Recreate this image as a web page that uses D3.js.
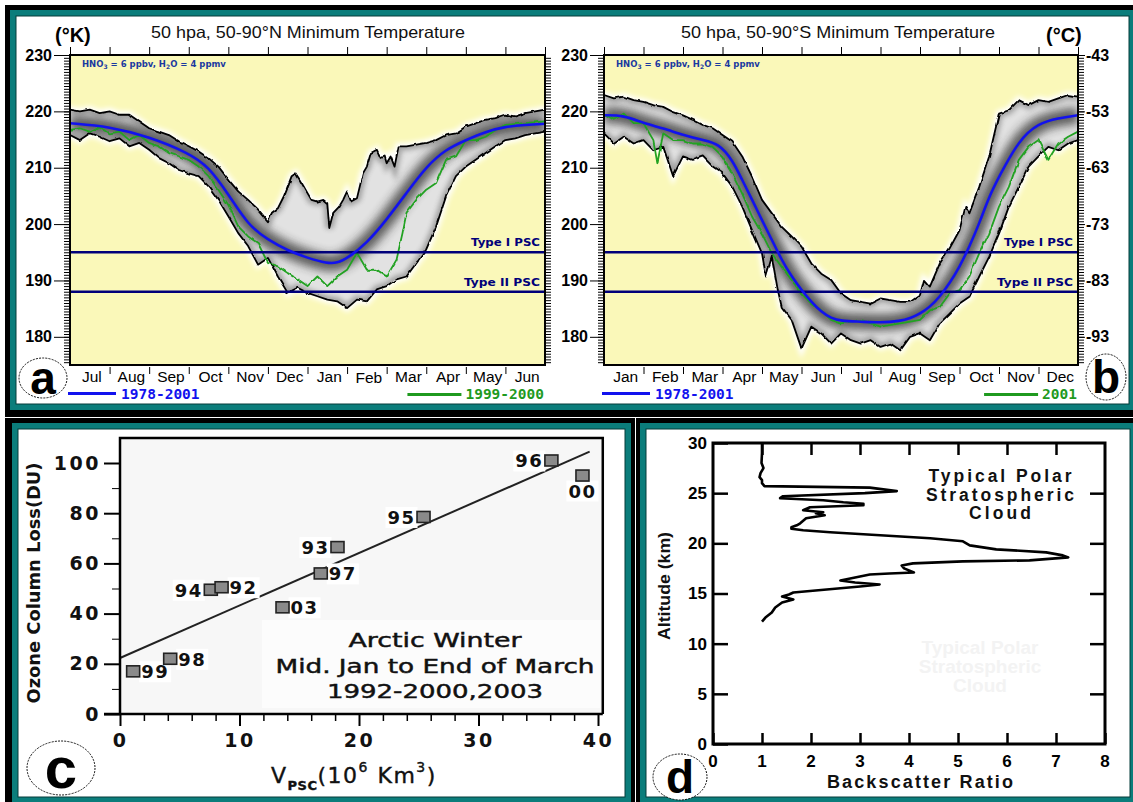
<!DOCTYPE html>
<html lang="en">
<head>
<meta charset="UTF-8">
<title>Polar minimum temperature, PSC volume and ozone loss</title>
<script src="https://d3js.org/d3.v7.min.js"></script>
<style>
  body { margin: 0; background: #fff; }
  svg { display: block; }
</style>
</head>
<body>
<script>
// ---------- panels a / b : 50 hPa minimum temperature (t = months from left edge, K)
const monthsNorth = ["Jul", "Aug", "Sep", "Oct", "Nov", "Dec", "Jan", "Feb", "Mar", "Apr", "May", "Jun"];
const monthsSouth = ["Jan", "Feb", "Mar", "Apr", "May", "Jun", "Jul", "Aug", "Sep", "Oct", "Nov", "Dec"];
const kelvinTicks = [230, 220, 210, 200, 190, 180];
const celsiusTicks = [-43, -53, -63, -73, -83, -93];
const pscLevels = [195, 188];
const pscNames = ["Type I PSC", "Type II PSC"];

const northMax = [[0,220.3],[0.25,220],[0.5,220.3],[0.75,219.7],[1,220],[1.25,219.4],[1.5,219.4],[1.75,218.2],[2,217],[2.25,216.4],[2.5,215.8],[2.75,214.7],[3,213.8],[3.25,212.9],[3.5,211.7],[3.75,210.2],[4,207.9],[4.25,205.8],[4.5,204.3],[4.75,202.6],[5,200.5],[5.1,202],[5.25,202.8],[5.4,204.9],[5.5,206.7],[5.6,208.5],[5.7,209],[5.8,207.9],[5.9,206.7],[6,205.5],[6.1,204.3],[6.25,204],[6.4,204.3],[6.5,203.7],[6.55,199.3],[6.65,202],[6.8,203.1],[6.9,204.3],[7,205.8],[7.1,204],[7.25,204.6],[7.4,209],[7.5,210.2],[7.6,212.6],[7.75,213.2],[7.85,211.7],[7.95,212],[8,210.8],[8.1,212],[8.2,210.2],[8.3,213.8],[8.5,213.8],[8.75,214.1],[9,214.4],[9.25,214.9],[9.5,215.8],[9.75,216.1],[10,217.3],[10.25,217.9],[10.5,218.5],[10.75,218.8],[11,219.4],[11.25,219.1],[11.5,219.7],[11.75,220],[12,220.3]];
const northMin = [[0,215.8],[0.25,214.9],[0.5,216.1],[0.75,215.5],[1,214.7],[1.25,215.2],[1.5,213.8],[1.75,214.4],[2,213.2],[2.25,211.7],[2.5,210.8],[2.75,209.6],[3,209],[3.25,208.5],[3.5,206.7],[3.75,204.3],[4,201.4],[4.25,198.4],[4.5,196.1],[4.75,192.8],[5,194],[5.25,190.7],[5.5,187.8],[5.75,188.7],[6,187.8],[6.25,187.2],[6.5,186.6],[6.75,186.3],[7,185.1],[7.25,186.6],[7.5,186.3],[7.75,188.4],[8,189],[8.25,190.2],[8.5,190.7],[8.75,193.1],[9,195.5],[9.25,199.6],[9.5,204.9],[9.75,208.5],[10,210.2],[10.25,211.4],[10.5,212.6],[10.75,213.8],[11,214.9],[11.25,215.2],[11.5,215.8],[11.75,216.1],[12,216.4]];
const northMean = [[0,217.9],[1,217.3],[2,215.5],[3,212.6],[3.5,210.2],[4,205.3],[4.5,199.8],[5,197.2],[5.5,195.3],[6,194],[6.5,193],[6.75,193.1],[7,193.9],[7.5,196.6],[8,200.8],[8.5,205.5],[9,210.2],[9.5,213.3],[10,214.9],[10.5,216.4],[11,217.3],[11.5,217.6],[12,217.8]];
const northGreen = [[0,216.7],[0.25,217],[0.5,216.4],[0.75,217.3],[1,216.1],[1.25,216.4],[1.5,214.9],[1.75,215.8],[2,214.4],[2.25,213.8],[2.5,212.6],[2.75,212],[3,211.4],[3.25,210.2],[3.5,208.5],[3.75,206.1],[4,203.4],[4.25,199.6],[4.5,197.8],[4.75,196.6],[5,193.1],[5.25,192.5],[5.5,191.3],[5.75,190.2],[6,189],[6.25,190.7],[6.5,189],[6.75,190.7],[7,191.9],[7.25,194.9],[7.5,191.9],[7.75,191.9],[8,190.7],[8.25,193.7],[8.4,198.4],[8.5,202],[8.75,204.3],[9,206.1],[9.25,207.3],[9.5,211.4],[9.75,212],[10,214.9],[10.25,214.9],[10.5,215.5],[10.75,216.7],[11,217.6],[11.5,217.9],[12,218.2]];

const southMax = [[0,222.9],[0.25,222.3],[0.5,222.6],[0.75,222],[1,221.7],[1.25,221.1],[1.5,220.8],[1.75,219.9],[2,219.3],[2.25,218.5],[2.5,217.6],[2.75,217],[3,215.8],[3.25,214.6],[3.5,212],[3.75,208.4],[4,204.3],[4.25,201.9],[4.5,199.5],[4.75,197.8],[5,196],[5.25,193],[5.5,191.2],[5.75,190.1],[6,187.7],[6.25,186.5],[6.5,186.2],[6.75,185.9],[7,186.8],[7.25,186.5],[7.5,186.2],[7.75,186.2],[8,187.4],[8.1,190.1],[8.25,188.9],[8.5,193],[8.75,195.7],[9,198.9],[9.15,203.1],[9.25,201.9],[9.5,206.6],[9.75,212],[10,219.6],[10.25,220.2],[10.5,222],[10.75,221.1],[11,222],[11.25,221.7],[11.5,222.3],[11.75,222.9],[12,222.6]];
const southMin = [[0,216.1],[0.25,214.3],[0.5,215.5],[0.75,214.3],[1,214.9],[1.25,213.1],[1.5,213.7],[1.75,208.5],[2,212],[2.25,211.4],[2.5,212],[2.75,210.2],[3,209],[3.25,206.6],[3.5,203.1],[3.75,198.9],[4,194.8],[4.1,190.7],[4.25,194.2],[4.4,188.3],[4.5,185.3],[4.75,183],[5,177.9],[5.25,181.8],[5.5,180.6],[5.75,178.8],[6,180.6],[6.25,179.4],[6.5,178.8],[6.75,179.4],[7,178.2],[7.25,178.8],[7.5,177.6],[7.75,180],[8,180.6],[8.25,179.4],[8.5,182.4],[8.75,184.1],[9,185.9],[9.25,187.1],[9.5,190.7],[9.75,194.2],[10,198.3],[10.25,203.1],[10.5,206.6],[10.75,210.2],[11,212],[11.25,213.7],[11.5,213.1],[11.75,214.3],[12,214.9]];
const southMean = [[0,219.3],[0.5,219.3],[1,217.9],[1.5,217],[2,215.8],[2.5,214.9],[2.9,214.3],[3.25,211.4],[3.5,207.8],[3.75,204.3],[4,200.7],[4.25,197.2],[4.5,193.6],[4.75,190.7],[5,188.3],[5.25,186.2],[5.5,184.4],[5.75,183.3],[6,182.8],[6.5,182.7],[7,182.5],[7.5,182.8],[7.75,183.3],[8,184.1],[8.25,185.3],[8.5,187.1],[8.75,189.5],[9,192.4],[9.25,196],[9.5,200.1],[9.75,204.9],[10,208.4],[10.5,214.9],[11,217.9],[11.5,218.8],[12,219.3]];
const southGreen = [[0,219.6],[0.25,218.5],[0.5,219.6],[0.75,217.9],[1,217.9],[1.25,214.9],[1.35,210.8],[1.5,216.1],[1.75,214.9],[2,214.9],[2.25,214.3],[2.5,214.3],[2.75,213.7],[3,212],[3.25,209],[3.5,205.4],[3.75,201.3],[4,198.3],[4.25,194.8],[4.5,192.4],[4.75,190.1],[5,187.7],[5.25,185.9],[5.5,184.7],[5.75,183],[6,182.4],[6.5,183],[7,181.8],[7.5,182.4],[8,183],[8.25,184.7],[8.5,185.3],[8.75,187.7],[9,188.3],[9.25,190.7],[9.5,194.8],[9.75,198.3],[10,203.1],[10.25,206.6],[10.5,211.4],[10.75,213.7],[11,214.9],[11.25,211.4],[11.5,214.3],[11.75,215.5],[12,216.4]];

// ---------- panel c : ozone column loss vs PSC volume
const vpsc = [1.1, 4.2, 7.6, 8.5, 13.6, 16.8, 18.2, 25.4, 36.1, 38.7];
const ozoneLoss = [17, 22, 49.5, 50.5, 42.5, 56, 66.5, 78.5, 101, 95];
const winterLabels = ["99", "98", "94", "92", "03", "97", "93", "95", "96", "00"];
const labelSide = ["r", "r", "l", "r", "r", "r", "l", "l", "l", "b"];
const fitLine = [[0, 22.3], [39.3, 104.5]];

// ---------- panel d : lidar backscatter profile
const altitudeKm = [30, 29, 28, 27.5, 27, 26.6, 26.3, 26, 25.7, 25.55, 25.2, 25, 24.7, 24.5, 24.3, 24.1, 23.95, 23.8, 23.6, 23.3, 23.1, 23, 22.8, 22.5, 22, 21.8, 21.6, 21.45, 21.3, 21.1, 20.9, 20.7, 20.5, 20.2, 19.8, 19.4, 19.1, 18.8, 18.6, 18.3, 18.2, 18, 17.8, 17.5, 17.1, 17, 16.9, 16.6, 16.3, 16.1, 15.9, 15.7, 15.1, 14.9, 14.7, 14.4, 14.1, 13.6, 13.1, 12.6, 12.2];
const backscatter = [1, 1, 0.99, 1.03, 0.97, 0.95, 1, 1, 1.05, 3.2, 3.75, 3.1, 1.43, 1.37, 2.25, 2.66, 3.07, 3.07, 1.98, 1.84, 2.25, 2.1, 2.28, 1.9, 1.78, 1.71, 1.6, 1.6, 1.84, 2.39, 3.07, 3.75, 4.43, 5.1, 5.24, 5.78, 6.8, 7.14, 7.25, 6.46, 5.1, 4.08, 3.85, 3.9, 4.1, 3.6, 3.2, 2.9, 2.6, 2.9, 3.4, 3.0, 1.64, 1.55, 1.41, 1.64, 1.41, 1.27, 1.2, 1.07, 1.0];

const W = 1133, H = 802;
const TEAL = "#0b7d7b", NAVY = "#00007a", BLUE = "#1212ee", GREEN = "#1f9a1f";

const svg = d3.select("body").append("svg").attr("width", W).attr("height", H);
const defs = svg.append("defs");

const soft = defs.append("filter").attr("id", "soft").attr("x", "-10%").attr("y", "-10%").attr("width", "120%").attr("height", "120%");
soft.append("feGaussianBlur").attr("stdDeviation", 2.5);
const softer = defs.append("filter").attr("id", "softer").attr("x", "-10%").attr("y", "-20%").attr("width", "120%").attr("height", "140%");
softer.append("feGaussianBlur").attr("stdDeviation", 5);
const rough = defs.append("filter").attr("id", "rough").attr("filterUnits", "userSpaceOnUse")
  .attr("x", 0).attr("y", 0).attr("width", W).attr("height", 420);
rough.append("feTurbulence").attr("type", "fractalNoise").attr("baseFrequency", "0.14 0.08").attr("numOctaves", 2).attr("seed", 4).attr("result", "noise");
rough.append("feDisplacementMap").attr("in", "SourceGraphic").attr("in2", "noise").attr("scale", 3)
  .attr("xChannelSelector", "R").attr("yChannelSelector", "G");

// ---------- frames
svg.append("rect").attr("width", W).attr("height", H).attr("fill", "#fff");
svg.append("rect").attr("x", 5).attr("y", 5).attr("width", W - 5).attr("height", H - 5).attr("fill", "#000");
function frame(x, y, w, h) {
  svg.append("rect").attr("x", x).attr("y", y).attr("width", w).attr("height", h).attr("fill", TEAL);
  svg.append("rect").attr("x", x + 6).attr("y", y + 6).attr("width", w - 12).attr("height", h - 12)
    .attr("fill", "#fff").attr("stroke", "#063c3b").attr("stroke-width", 1);
}
frame(10, 10, 1125, 400);
svg.append("line").attr("x1", 0).attr("x2", W).attr("y1", 417.5).attr("y2", 417.5).attr("stroke", "#fff");
svg.append("line").attr("x1", 635.5).attr("x2", 635.5).attr("y1", 418).attr("y2", H).attr("stroke", "#fff");
frame(12, 423, 619, 380);
frame(640, 423, 496, 380);

function cleanAxis(g, family, size, weight) {
  g.attr("font-family", family).attr("font-size", size).attr("font-weight", weight);
  g.select(".domain").remove();
  g.selectAll(".tick line").attr("stroke", "#000");
  g.selectAll(".tick text").attr("fill", "#000");
}

function circleTag(cx, cy, rx, ry, letter, size) {
  svg.append("ellipse").attr("cx", cx).attr("cy", cy).attr("rx", rx).attr("ry", ry)
    .attr("fill", "#fff").attr("stroke", "#111").attr("stroke-width", 1).attr("stroke-dasharray", "2,1.2");
  svg.append("text").attr("x", cx).attr("y", cy).attr("dy", "0.34em").attr("text-anchor", "middle")
    .attr("font-family", "Liberation Sans, Arial, sans-serif").attr("font-weight", "bold")
    .attr("font-size", size).attr("fill", "#000").text(letter);
}

// ---------- temperature panels
function drawTempPanel(p) {
  const x = d3.scaleLinear().domain([0, 12]).range([p.x0, p.x1]);
  const y = d3.scaleLinear().domain([175, 230]).range([365, 55]);
  const g = svg.append("g");

  g.append("rect").attr("x", p.x0).attr("y", y(230)).attr("width", p.x1 - p.x0)
    .attr("height", y(175) - y(230)).attr("fill", "#faf8b9");

  const jag = d3.line().x(d => x(d[0])).y(d => y(d[1]));
  const smooth = d3.line().x(d => x(d[0])).y(d => y(d[1])).curve(d3.curveBasis);
  const envPath = jag(p.max.concat(p.min.slice().reverse())) + "Z";
  const clipId = "env-" + p.id;
  defs.append("clipPath").attr("id", clipId).append("path").attr("d", envPath);

  // white halo + grey density band
  g.append("path").attr("d", envPath).attr("fill", "#fff").attr("stroke", "#fff")
    .attr("stroke-width", 7).attr("filter", "url(#soft)");
  const band = g.append("g").attr("clip-path", `url(#${clipId})`);
  band.append("rect").attr("x", p.x0).attr("y", 55).attr("width", p.x1 - p.x0).attr("height", 310).attr("fill", "#e2e2e2");
  band.append("path").attr("d", smooth(p.mean)).attr("fill", "none").attr("stroke", "#2e2e2e")
    .attr("stroke-width", 16).attr("opacity", 0.75).attr("filter", "url(#softer)");
  [p.max, p.min].forEach(s => {
    band.append("path").attr("d", jag(s)).attr("fill", "none").attr("stroke", "#555")
      .attr("stroke-width", 8).attr("opacity", 0.45).attr("filter", "url(#soft)");
  });

  // noisy extremes and single season
  const noisy = g.append("g").attr("filter", "url(#rough)");
  [p.max, p.min].forEach(s => {
    noisy.append("path").attr("d", jag(s)).attr("fill", "none").attr("stroke", "#000")
      .attr("stroke-width", 1.8).attr("stroke-linejoin", "round");
  });
  noisy.append("path").attr("d", jag(p.green)).attr("fill", "none").attr("stroke", "#22a222")
    .attr("stroke-width", 1.8).attr("stroke-linejoin", "round");

  // PSC thresholds
  pscLevels.forEach((k, i) => {
    g.append("line").attr("x1", p.x0).attr("x2", p.x1).attr("y1", y(k)).attr("y2", y(k))
      .attr("stroke", NAVY).attr("stroke-width", 2.4);
    g.append("text").attr("x", p.x1 - 5).attr("y", y(k) - 6).attr("text-anchor", "end")
      .attr("font-family", "DejaVu Sans, Verdana, sans-serif").attr("font-weight", "bold")
      .attr("font-size", 10.5).attr("fill", NAVY)
      .attr("textLength", i === 0 ? 69 : 76).attr("lengthAdjust", "spacingAndGlyphs").text(pscNames[i]);
  });

  g.append("path").attr("d", smooth(p.mean)).attr("fill", "none").attr("stroke", BLUE).attr("stroke-width", 2.6);

  g.append("rect").attr("x", p.x0).attr("y", y(230)).attr("width", p.x1 - p.x0)
    .attr("height", y(175) - y(230)).attr("fill", "none").attr("stroke", "#000").attr("stroke-width", 2);

  // HNO3 / H2O note
  const note = g.append("text").attr("x", p.x0 + 12).attr("y", 67)
    .attr("font-family", "DejaVu Sans, Verdana, sans-serif").attr("font-weight", "bold")
    .attr("font-size", 8.5).attr("fill", "#1a3aa0");
  note.append("tspan").text("HNO");
  note.append("tspan").attr("font-size", 6).attr("dy", 2).text("3");
  note.append("tspan").attr("dy", -2).text(" = 6 ppbv, H");
  note.append("tspan").attr("font-size", 6).attr("dy", 2).text("2");
  note.append("tspan").attr("dy", -2).text("O = 4 ppmv");

  // dense ruler ticks on both sides
  const fine = d3.range(175.5, 230, 0.5);
  g.append("g").attr("transform", `translate(${p.x0},0)`)
    .call(d3.axisLeft(y).tickValues(fine).tickSize(6).tickFormat(""))
    .call(a => cleanAxis(a, "Liberation Sans", 10, "normal"));
  g.append("g").attr("transform", `translate(${p.x1},0)`)
    .call(d3.axisRight(y).tickValues(fine).tickSize(6).tickFormat(""))
    .call(a => cleanAxis(a, "Liberation Sans", 10, "normal"));
  g.append("g").attr("transform", `translate(${p.x0},0)`)
    .call(d3.axisLeft(y).tickValues(kelvinTicks).tickSize(p.leftTick).tickPadding(2).tickFormat(d => String(d)))
    .call(a => cleanAxis(a, "Liberation Sans, Arial, sans-serif", 16, "bold"));
  if (p.celsius) {
    const yc = d3.scaleLinear().domain([175 - 273, 230 - 273]).range([365, 55]);
    g.append("g").attr("transform", `translate(${p.x1},0)`)
      .call(d3.axisRight(yc).tickValues(celsiusTicks).tickSize(7).tickPadding(1).tickFormat(d => String(d)))
      .call(a => cleanAxis(a, "Liberation Sans, Arial, sans-serif", 16, "bold"));
  }

  // month ticks and labels
  g.append("g").attr("transform", "translate(0,55)")
    .call(d3.axisTop(x).tickValues(d3.range(0, 13)).tickSize(8).tickFormat(""))
    .call(a => cleanAxis(a, "Liberation Sans", 10, "normal"));
  g.append("g").attr("transform", "translate(0,367)")
    .call(d3.axisBottom(x).tickValues(d3.range(1, 12)).tickSize(7).tickFormat(""))
    .call(a => cleanAxis(a, "Liberation Sans", 10, "normal"));
  g.append("g").selectAll("text").data(p.months).join("text")
    .attr("x", (d, i) => x(i + 0.5) + 2).attr("y", (d, i) => d === "Feb" && p.id === "a" ? 383 : 381.5)
    .attr("text-anchor", "middle").attr("font-family", "Liberation Sans, Arial, sans-serif")
    .attr("font-size", 15.5).attr("fill", "#000").text(d => d);

  // legend
  g.append("line").attr("x1", p.x0 - 2).attr("x2", p.x0 + 46).attr("y1", 393.5).attr("y2", 393.5)
    .attr("stroke", BLUE).attr("stroke-width", 3);
  g.append("text").attr("x", p.x0 + 51).attr("y", 399).attr("font-family", "DejaVu Sans Mono, monospace")
    .attr("font-weight", "bold").attr("font-size", 14.5).attr("fill", BLUE).text("1978-2001");
  const gl = g.append("text").attr("x", p.x1 - 1).attr("y", 399).attr("text-anchor", "end")
    .attr("font-family", "DejaVu Sans Mono, monospace").attr("font-weight", "bold")
    .attr("font-size", 14.5).attr("fill", GREEN).text(p.greenName);
  const glx = gl.node().getBBox().x;
  g.append("line").attr("x1", glx - 58).attr("x2", glx - 4).attr("y1", 394.5).attr("y2", 394.5)
    .attr("stroke", GREEN).attr("stroke-width", 3);

  // title
  g.append("text").attr("x", p.titleX).attr("y", 38).attr("text-anchor", "middle")
    .attr("font-family", "Liberation Sans, Arial, sans-serif").attr("font-size", 16.5).attr("fill", "#111")
    .attr("textLength", 314).attr("lengthAdjust", "spacingAndGlyphs").text(p.title);
  g.append("text").attr("x", p.unitX).attr("y", 42).attr("font-family", "Liberation Sans, Arial, sans-serif")
    .attr("font-weight", "bold").attr("font-size", 20).attr("fill", "#000").text(p.unit);
}

drawTempPanel({ id: "a", x0: 70, x1: 545, months: monthsNorth, max: northMax, min: northMin, mean: northMean,
  green: northGreen, greenName: "1999-2000", leftTick: 16, celsius: false,
  title: "50 hpa, 50-90°N Minimum Temperature", titleX: 308, unit: "(°K)", unitX: 55 });
drawTempPanel({ id: "b", x0: 604, x1: 1078, months: monthsSouth, max: southMax, min: southMin, mean: southMean,
  green: southGreen, greenName: "2001", leftTick: 14, celsius: true,
  title: "50 hpa, 50-90°S Minimum Temperature", titleX: 838, unit: "(°C)", unitX: 1046 });

circleTag(43, 378, 24, 20, "a", 46);
circleTag(1106, 377, 20, 23, "b", 46);

// ---------- panel c
const xC = d3.scaleLinear().domain([0, 40]).range([120, 598]);
const yC = d3.scaleLinear().domain([0, 100]).range([714, 463]);
const gc = svg.append("g");
gc.append("rect").attr("x", xC(0)).attr("y", yC(110)).attr("width", xC(40.4) - xC(0))
  .attr("height", yC(0) - yC(110)).attr("fill", "#f7f7f7");

const blockLines = ["Arctic Winter", "Mid. Jan to End of March", "1992-2000,2003"];
const blockLen = [173, 319, 216];
const block = gc.append("g");
block.selectAll("text").data(blockLines).join("text")
  .attr("x", 435).attr("y", (d, i) => 647 + i * 25.5).attr("text-anchor", "middle")
  .attr("font-family", "DejaVu Sans, Verdana, sans-serif").attr("font-size", 19).attr("fill", "#111")
  .attr("stroke", "#111").attr("stroke-width", 0.45)
  .attr("textLength", (d, i) => blockLen[i]).attr("lengthAdjust", "spacingAndGlyphs").text(d => d);
block.insert("rect", "text").attr("x", 262).attr("y", 620).attr("width", 338).attr("height", 88).attr("fill", "#fcfcfc");

gc.append("path").attr("d", d3.line().x(d => xC(d[0])).y(d => yC(d[1]))(fitLine))
  .attr("stroke", "#222").attr("stroke-width", 2).attr("fill", "none");

// axes
gc.append("g").attr("transform", `translate(${xC(0)},0)`)
  .call(d3.axisLeft(yC).tickValues([10, 30, 50, 70, 90]).tickSize(8).tickFormat(""))
  .call(a => cleanAxis(a, "DejaVu Sans", 18, "normal"));
gc.append("g").attr("transform", `translate(${xC(0)},0)`)
  .call(d3.axisLeft(yC).tickValues([0, 20, 40, 60, 80, 100]).tickSize(16).tickPadding(3))
  .call(a => cleanAxis(a, "DejaVu Sans, Verdana, sans-serif", 19, "bold"))
  .call(a => a.selectAll(".tick line").attr("stroke-width", 2))
  .call(a => a.selectAll(".tick text").attr("letter-spacing", 2.5).attr("fill", "#111"));
gc.append("g").attr("transform", `translate(0,${yC(0)})`)
  .call(d3.axisBottom(xC).tickValues(d3.range(2, 40, 2).filter(v => v % 10)).tickSize(7).tickFormat(""))
  .call(a => cleanAxis(a, "DejaVu Sans", 18, "normal"))
  .call(a => a.selectAll(".tick line").attr("stroke-width", 1.5));
gc.append("g").attr("transform", `translate(0,${yC(0)})`)
  .call(d3.axisBottom(xC).tickValues([0, 10, 20, 30, 40]).tickSize(12).tickPadding(8))
  .call(a => cleanAxis(a, "DejaVu Sans, Verdana, sans-serif", 19, "bold"))
  .call(a => a.selectAll(".tick line").attr("stroke-width", 2))
  .call(a => a.selectAll(".tick text").attr("letter-spacing", 2.5).attr("fill", "#111"));
const boxPath = d3.line().x(d => xC(d[0])).y(d => yC(d[1]));
gc.append("path").attr("d", boxPath([[0, 0], [0, 110], [40.4, 110], [40.4, 0]]))
  .attr("fill", "none").attr("stroke", "#000").attr("stroke-width", 2.5);
gc.append("line").attr("x1", xC(0) - 16).attr("x2", xC(40.4)).attr("y1", yC(0)).attr("y2", yC(0))
  .attr("stroke", "#000").attr("stroke-width", 2.5);

// points and year labels
const pts = vpsc.map((v, i) => ({ v, o: ozoneLoss[i], lab: winterLabels[i], side: labelSide[i] }));
const lg = gc.append("g");
pts.forEach(d => {
  const cx = xC(d.v), cy = yC(d.o);
  const t = lg.append("text").attr("font-family", "DejaVu Sans, Verdana, sans-serif").attr("font-weight", "bold")
    .attr("font-size", 18).attr("letter-spacing", 1.5).attr("fill", "#111").text(d.lab);
  if (d.side === "r") t.attr("x", cx + 8).attr("y", cy + 7).attr("text-anchor", "start");
  else if (d.side === "l") t.attr("x", cx - 8).attr("y", cy + 7).attr("text-anchor", "end");
  else t.attr("x", cx).attr("y", cy + 22).attr("text-anchor", "middle");
  const b = t.node().getBBox();
  lg.insert("rect", "text").attr("x", b.x - 2).attr("y", b.y).attr("width", b.width + 4).attr("height", b.height)
    .attr("fill", "#fff");
});
gc.append("g").selectAll("rect").data(pts).join("rect")
  .attr("x", d => xC(d.v) - 6.5).attr("y", d => yC(d.o) - 5.5).attr("width", 13).attr("height", 11)
  .attr("fill", "#8a8a8a").attr("stroke", "#222").attr("stroke-width", 1.6);

// axis titles
const xt = gc.append("text").attr("x", 271).attr("y", 783).attr("font-family", "DejaVu Sans, Verdana, sans-serif")
  .attr("font-size", 22).attr("letter-spacing", 1.5).attr("fill", "#111").attr("stroke", "#111").attr("stroke-width", 0.4);
xt.append("tspan").text("V");
xt.append("tspan").attr("font-size", 13).attr("font-weight", "bold").attr("letter-spacing", 0.5).attr("dy", 7).text("PSC");
xt.append("tspan").attr("dy", -7).text("(10");
xt.append("tspan").attr("font-size", 14).attr("dy", -11).text("6");
xt.append("tspan").attr("dy", 11).text(" Km");
xt.append("tspan").attr("font-size", 14).attr("dy", -11).text("3");
xt.append("tspan").attr("dy", 11).text(")");
gc.append("text").attr("transform", "translate(40,583) rotate(-90)").attr("text-anchor", "middle")
  .attr("font-family", "DejaVu Sans, Verdana, sans-serif").attr("font-weight", "bold").attr("font-size", 17)
  .attr("fill", "#111").attr("textLength", 241).attr("lengthAdjust", "spacingAndGlyphs").text("Ozone Column Loss(DU)");

circleTag(61, 768, 34, 27, "c", 58);

// ---------- panel d
const xD = d3.scaleLinear().domain([0, 8]).range([713, 1105]);
const yD = d3.scaleLinear().domain([0, 30]).range([744, 443]);
const gd = svg.append("g");
const boldSans = "Liberation Sans, Arial, sans-serif";

// faint ghost caption left in the original figure
gd.append("g").selectAll("text").data(["Typical Polar", "Stratospheric", "Cloud"]).join("text")
  .attr("x", 980).attr("y", (d, i) => 654 + i * 19).attr("text-anchor", "middle")
  .attr("font-family", boldSans).attr("font-weight", "bold").attr("font-size", 19)
  .attr("fill", "#f3f3f3").text(d => d);

gd.append("g").attr("transform", `translate(${xD(0)},0)`)
  .call(d3.axisLeft(yD).tickValues(d3.range(0, 31, 5)).tickSizeInner(-15).tickSizeOuter(0).tickPadding(6))
  .call(a => cleanAxis(a, boldSans, 17, "bold"))
  .call(a => a.selectAll(".tick line").attr("stroke-width", 2.5));
gd.append("g").attr("transform", `translate(${xD(8)},0)`)
  .call(d3.axisLeft(yD).tickValues(d3.range(5, 30, 5)).tickSize(15).tickFormat(""))
  .call(a => cleanAxis(a, boldSans, 17, "bold"))
  .call(a => a.selectAll(".tick line").attr("stroke-width", 2.5));
gd.append("g").attr("transform", `translate(0,${yD(0)})`)
  .call(d3.axisBottom(xD).tickValues(d3.range(0, 9)).tickSizeInner(-11).tickSizeOuter(0).tickPadding(11))
  .call(a => cleanAxis(a, boldSans, 17, "bold"))
  .call(a => a.selectAll(".tick line").attr("stroke-width", 2.5))
  .call(a => a.selectAll(".tick text").attr("letter-spacing", 1));
gd.append("g").attr("transform", `translate(0,${yD(30)})`)
  .call(d3.axisBottom(xD).tickValues(d3.range(1, 8)).tickSize(12).tickFormat(""))
  .call(a => cleanAxis(a, boldSans, 17, "bold"))
  .call(a => a.selectAll(".tick line").attr("stroke-width", 2.5));
gd.append("rect").attr("x", xD(0)).attr("y", yD(30)).attr("width", xD(8) - xD(0)).attr("height", yD(0) - yD(30))
  .attr("fill", "none").attr("stroke", "#000").attr("stroke-width", 3);

gd.append("path")
  .attr("d", d3.line().x(d => xD(d[0])).y(d => yD(d[1]))(backscatter.map((b, i) => [b, altitudeKm[i]])))
  .attr("fill", "none").attr("stroke", "#000").attr("stroke-width", 2.6).attr("stroke-linejoin", "round");

gd.append("g").selectAll("text").data(["Typical Polar", "Stratospheric", "Cloud"]).join("text")
  .attr("x", 1000).attr("y", (d, i) => 482 + i * 18.5).attr("text-anchor", "middle")
  .attr("font-family", boldSans).attr("font-weight", "bold").attr("font-size", 17.5).attr("fill", "#111")
  .attr("textLength", (d, i) => [143, 148, 62][i]).attr("lengthAdjust", "spacing").text(d => d);

gd.append("text").attr("x", 920).attr("y", 788).attr("text-anchor", "middle").attr("font-family", boldSans)
  .attr("font-weight", "bold").attr("font-size", 18).attr("fill", "#111")
  .attr("textLength", 186).attr("lengthAdjust", "spacing").text("Backscatter Ratio");
gd.append("text").attr("transform", "translate(670,586) rotate(-90)").attr("text-anchor", "middle")
  .attr("font-family", boldSans).attr("font-weight", "bold").attr("font-size", 17).attr("fill", "#111")
  .attr("textLength", 108).attr("lengthAdjust", "spacingAndGlyphs").text("Altitude (km)");

circleTag(680, 777, 27, 23, "d", 46);
</script>
</body>
</html>
